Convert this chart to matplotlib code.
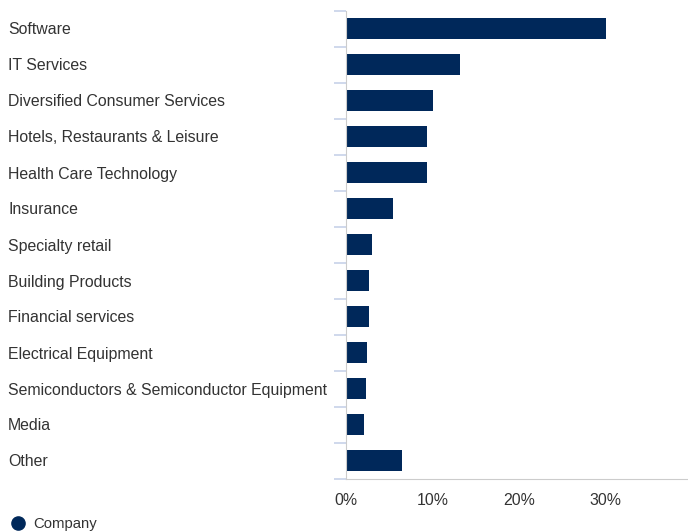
import matplotlib
matplotlib.use("Agg")
import matplotlib.pyplot as plt
from matplotlib.lines import Line2D

categories = ["Software", "IT Services", "Diversified Consumer Services",
              "Hotels, Restaurants & Leisure", "Health Care Technology",
              "Insurance", "Specialty retail", "Building Products",
              "Financial services", "Electrical Equipment",
              "Semiconductors & Semiconductor Equipment", "Media", "Other"]
values = [30.0, 13.2, 10.05, 9.35, 9.35, 5.4, 3.0, 2.65, 2.65, 2.4, 2.3, 2.05, 6.45]
xticks = [0, 10, 20, 30]
xtick_labels = ["0%", "10%", "20%", "30%"]
series_name = "Company"

W, H = 688, 531
fig = plt.figure(figsize=(W / 100, H / 100), dpi=100)
plt.rcParams['font.family'] = ['Liberation Sans', 'DejaVu Sans']
ax = fig.add_axes([346 / W, 1 - 478.5 / H, (688 - 346) / W, (478.5 - 10.5) / H])

bar_color = "#00285a"
pos = list(range(len(categories)))
ax.barh(pos, values, height=0.61, color=bar_color)
ax.set_ylim(len(categories) - 0.5, -0.5)
ax.set_xlim(0, 39.5)

for s in ["top", "right"]:
    ax.spines[s].set_visible(False)
ax.spines["left"].set_color("#cccccc")
ax.spines["bottom"].set_color("#cccccc")

ax.set_yticks(pos)
ax.set_yticklabels(categories, ha="left", fontsize=11.4, color="#333333")
ax.tick_params(axis="y", which="major", length=0, pad=(346 - 8) * 0.72)
ax.set_yticks([p - 0.5 for p in pos] + [len(pos) - 0.5], minor=True)
ax.tick_params(axis="y", which="minor", length=12 * 0.72, width=1.3, color="#ccd6eb")

ax.set_xticks(xticks)
ax.set_xticklabels(xtick_labels, fontsize=11.4, color="#333333")
ax.tick_params(axis="x", length=0, pad=10.5)

handle = Line2D([], [], marker="o", linestyle="none", color=bar_color, markersize=9.5)
fig.legend([handle], [series_name], loc="lower left", bbox_to_anchor=(10.5 / W, 0.0),
           frameon=False, fontsize=10.7, handlelength=1.0, handletextpad=0.55,
           borderpad=0, borderaxespad=0, labelcolor="#333333")

fig.savefig("out.png", dpi=100)
